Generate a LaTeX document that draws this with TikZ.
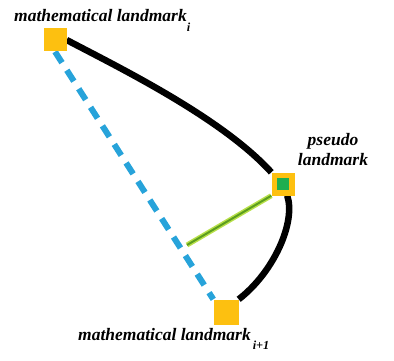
\documentclass[tikz,border=0pt]{standalone}
\usepackage{fontspec}
\setmainfont{Liberation Serif}
\usepackage{xcolor}
\usetikzlibrary{arrows.meta, positioning}
\definecolor{lmyellow}{HTML}{FDC010}
\definecolor{lmgreen}{HTML}{1FAE50}
\definecolor{lmblue}{HTML}{27A3DA}
\definecolor{lmlime}{HTML}{B8E04A}
\definecolor{lmline}{HTML}{5C9E1E}
\pgfdeclarelayer{bg}
\pgfsetlayers{bg,main}

\begin{document}
\begin{tikzpicture}[x=1pt,y=-1pt,
    landmark/.style={rectangle, fill=lmyellow, minimum size=23pt, inner sep=0pt},
    lab/.style={font=\fontsize{17.5}{20}\selectfont\bfseries\itshape, inner sep=0pt}]
            \useasboundingbox (0,0) rectangle (394,361);
            \node[landmark] (a) at (55,40) {};
            \node[landmark] (p) at (283,184) {};
            \node[rectangle, fill=lmgreen, minimum size=12pt, inner sep=0pt] (q) at (283,184) {};
            \node[landmark, minimum size=25pt] (b) at (226,312) {};
            \coordinate (m) at (187,245);
            \node[lab, anchor=base west] (la) at (14,22) {mathematical landmark\textsubscript{\raisebox{-1.2ex}{i}}};
            \node[lab, align=center] (lp) at (333,150) {pseudo\\landmark};
            \node[lab, anchor=base west] (lb) at (78,340) {mathematical landmark\textsubscript{\raisebox{-1.2ex}{\,i+1}}};
            \begin{pgfonlayer}{bg}
            \draw[line width=6.5pt, black] (a.east) .. controls (120,68) and (222,118) .. (p.north west);
            \draw[line width=6.5pt, black] (p.-70) .. controls (296,222) and (274,272) .. (b.north east);
            \draw[line width=6pt, lmblue, dash pattern=on 13pt off 9pt] (a.south) -- (b.north west);
            \draw[line width=5pt, lmlime] (m) -- (p.south west);
            \draw[line width=2pt, lmline] (m) -- (p.south west);
            \end{pgfonlayer}
        \end{tikzpicture}
\end{document}
